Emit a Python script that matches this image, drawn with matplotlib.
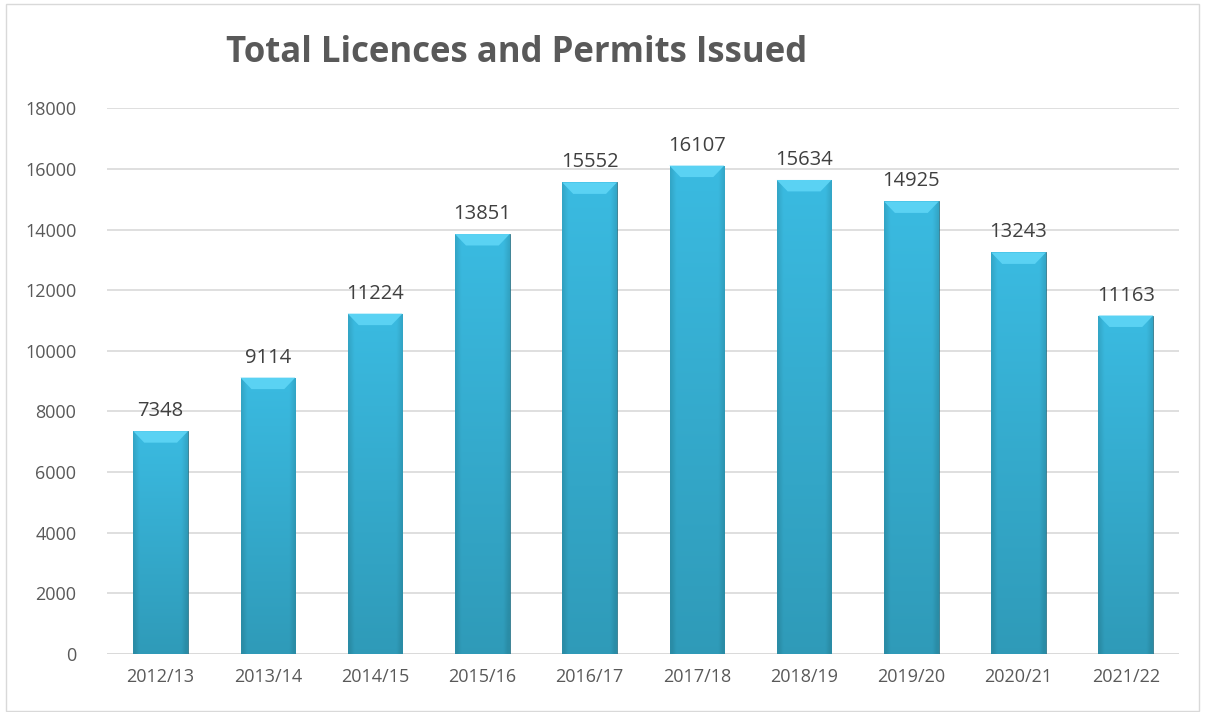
import numpy as np
import matplotlib.pyplot as plt
from matplotlib.colors import LinearSegmentedColormap
from matplotlib.patches import Polygon, Rectangle

years = ['2012/13', '2013/14', '2014/15', '2015/16', '2016/17',
         '2017/18', '2018/19', '2019/20', '2020/21', '2021/22']
issued = [7348, 9114, 11224, 13851, 15552, 16107, 15634, 14925, 13243, 11163]
y_ticks = list(range(0, 18001, 2000))

plt.rcParams['font.family'] = ['Open Sans', 'DejaVu Sans']
grey = '#595959'

fig = plt.figure(figsize=(12.05, 7.12), dpi=100)
ax = fig.add_axes([0.0888, 0.0815, 0.890, 0.7665])

x = np.arange(len(years))
bars = ax.bar(x, issued, width=0.51, color='#35aed4', zorder=2)
ax.set_xlim(-0.5, len(years) - 0.5)
ax.set_ylim(0, 18000)

# shaded fill for each bar: lighter top, darker bottom and sides
cmap = LinearSegmentedColormap.from_list('b', ['#2a8ca6', '#3bbde4'])
ny, nx = 100, 40
vert = np.linspace(0, 1, ny)[:, None]
horiz = np.linspace(-1, 1, nx)[None, :]
shade = 0.3 + 0.65 * vert - 0.4 * np.clip(np.abs(horiz) - 0.78, 0, None) / 0.22
shade = np.clip(shade, 0, 1)
bevel_h = 18000 * 0.021
for b in bars:
    x0, w, h = b.get_x(), b.get_width(), b.get_height()
    b.set_facecolor('none')
    b.set_edgecolor('#1f6f85')
    b.set_linewidth(0.6)
    im = ax.imshow(shade, cmap=cmap, vmin=0, vmax=1, origin='lower', aspect='auto',
                   extent=[x0, x0 + w, 0, h], zorder=2, interpolation='bilinear')
    im.set_clip_path(b)
    bev = w * 0.2
    ax.add_patch(Polygon([[x0, h], [x0 + w, h], [x0 + w - bev, h - bevel_h],
                          [x0 + bev, h - bevel_h]], closed=True,
                         facecolor='#5ad2f3', edgecolor='none', zorder=3))
    ax.text(x0 + w / 2, h + 330, str(int(h)),
            ha='center', va='bottom', fontsize=14.5, color='#404040')

ax.set_xticks(x)
ax.set_xticklabels(years)
ax.set_yticks(y_ticks)
ax.tick_params(axis='both', length=0, labelsize=13, colors=grey)
ax.tick_params(axis='x', pad=10)
ax.tick_params(axis='y', pad=22)
ax.grid(axis='y', color='#d9d9d9', linewidth=1.2, zorder=0)
for s in ax.spines.values():
    s.set_visible(False)
ax.axhline(0, color='#d9d9d9', linewidth=1.2, zorder=1)

fig.text(0.429, 0.925, 'Total Licences and Permits Issued', ha='center', va='center',
         fontsize=25, fontweight='bold', color=grey)

fig.add_artist(Rectangle((0.005, 0.002), 0.99, 0.993, transform=fig.transFigure,
                         fill=False, edgecolor='#d9d9d9', linewidth=1))

fig.savefig('out.png', dpi=100)
